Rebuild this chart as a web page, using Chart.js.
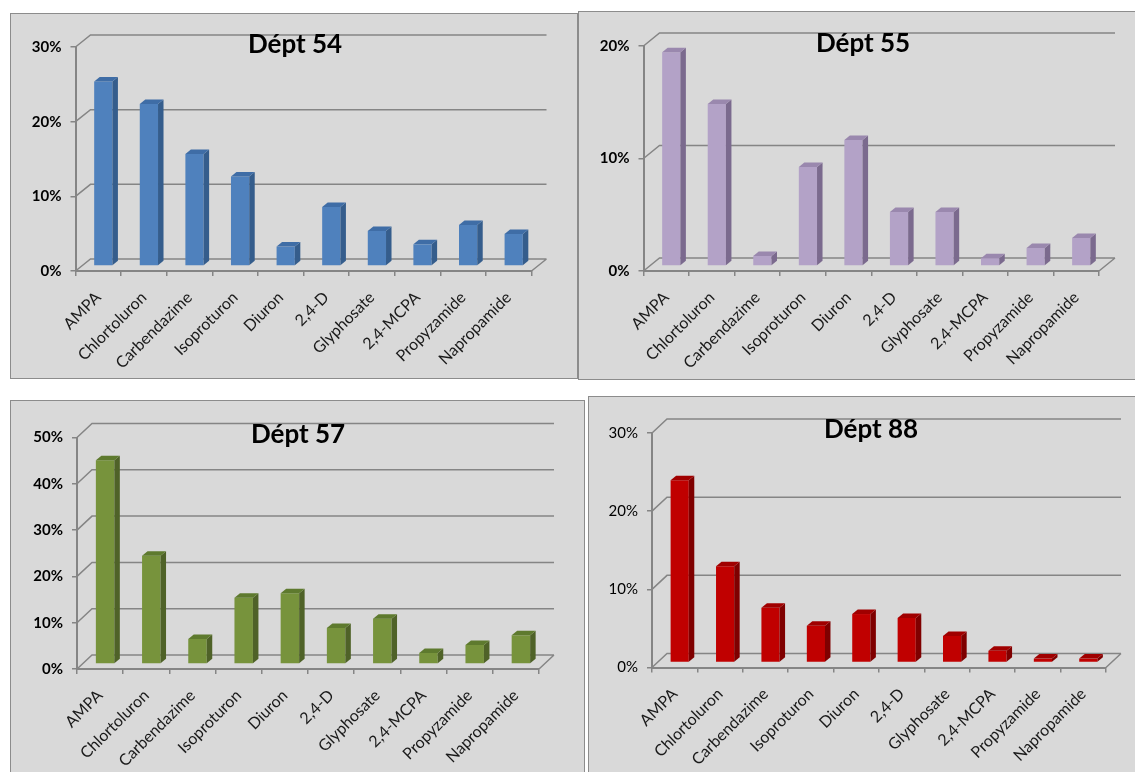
<!DOCTYPE html>
<html>
<head>
<meta charset="utf-8">
<script src="https://cdn.jsdelivr.net/npm/chart.js@4.4.1/dist/chart.umd.min.js"></script>
<style>
  body { margin: 0; background: #fff; width: 1135px; height: 772px; overflow: hidden; position: relative; }
  .panel { position: absolute; background: #d9d9d9; border: 1px solid #8c8c8c; }
  .panel canvas { position: absolute; left: 0; top: 0; }
</style>
</head>
<body>
<div class="panel" style="left:10px; top:13px; width:566px; height:364px;"><canvas id="c54" width="566" height="364"></canvas></div>
<div class="panel" style="left:578px; top:11px; width:556px; height:367px;"><canvas id="c55" width="556" height="367"></canvas></div>
<div class="panel" style="left:10px; top:400px; width:573px; height:371px;"><canvas id="c57" width="573" height="371"></canvas></div>
<div class="panel" style="left:588px; top:396px; width:546px; height:375px;"><canvas id="c88" width="546" height="375"></canvas></div>

<script>
const categories = ['AMPA', 'Chlortoluron', 'Carbendazime', 'Isoproturon', 'Diuron', '2,4-D', 'Glyphosate', '2,4-MCPA', 'Propyzamide', 'Napropamide'];

// % of detections per department
const dept54 = [24.7, 21.7, 15.0, 12.0, 2.6, 7.9, 4.7, 2.9, 5.5, 4.3];
const dept55 = [19.0, 14.4, 0.9, 8.8, 11.2, 4.8, 4.8, 0.7, 1.6, 2.5];
const dept57 = [44.0, 23.4, 5.4, 14.3, 15.3, 7.8, 9.8, 2.4, 4.1, 6.2];
const dept88 = [23.3, 12.3, 7.0, 4.7, 6.2, 5.7, 3.4, 1.5, 0.5, 0.5];

const yTicks54 = [0, 10, 20, 30];
const yTicks55 = [0, 10, 20];
const yTicks57 = [0, 10, 20, 30, 40, 50];
const yTicks88 = [0, 10, 20, 30];

// back wall + floor, and the 3d faces of the bars
const wall3d = {
  id: 'wall3d',
  beforeDatasetsDraw(chart, args, o) {
    const ctx = chart.ctx, a = chart.chartArea, y = chart.scales.y;
    ctx.save();
    ctx.strokeStyle = '#858585';
    ctx.lineWidth = 1.5;
    ctx.beginPath();
    y.ticks.forEach(t => {
      const py = y.getPixelForValue(t.value);
      ctx.moveTo(a.left, py);
      ctx.lineTo(a.left + o.dx, py + o.dy);
      ctx.lineTo(a.right + o.dx, py + o.dy);
    });
    const p0 = y.getPixelForValue(0);
    ctx.moveTo(a.right, p0);
    ctx.lineTo(a.right + o.dx, p0 + o.dy);
    ctx.stroke();
    ctx.restore();
    ctx.save();
    ctx.translate(o.sx, o.sy);
  },
  afterDatasetsDraw(chart, args, o) {
    const ctx = chart.ctx;
    chart.getDatasetMeta(0).data.forEach(bar => {
      const p = bar.getProps(['x', 'y', 'base', 'width'], true);
      const l = p.x - p.width / 2, r = p.x + p.width / 2;
      ctx.fillStyle = o.side;
      ctx.beginPath();
      ctx.moveTo(r, p.y);
      ctx.lineTo(r + o.fx, p.y + o.fy);
      ctx.lineTo(r + o.fx, p.base + o.fy);
      ctx.lineTo(r, p.base);
      ctx.closePath();
      ctx.fill();
      ctx.fillStyle = o.top;
      ctx.beginPath();
      ctx.moveTo(l, p.y);
      ctx.lineTo(l + o.fx, p.y + o.fy);
      ctx.lineTo(r + o.fx, p.y + o.fy);
      ctx.lineTo(r, p.y);
      ctx.closePath();
      ctx.fill();
    });
    ctx.restore();
  }
};

// title sits inside the plot, over the top gridline
const overTitle = {
  id: 'overTitle',
  afterDraw(chart, args, o) {
    const ctx = chart.ctx;
    ctx.save();
    ctx.font = 'bold 26px Lato';
    ctx.fillStyle = '#000';
    ctx.textAlign = 'center';
    ctx.textBaseline = 'middle';
    ctx.fillText(o.text, o.x, o.y);
    ctx.restore();
  }
};

function makeChart(id, title, values, yTicks, col, g) {
  new Chart(document.getElementById(id), {
    type: 'bar',
    data: {
      labels: categories,
      datasets: [{
        label: title,
        data: values,
        backgroundColor: col.front,
        borderWidth: 0,
        barPercentage: 0.4,
        categoryPercentage: 1,
        clip: false
      }]
    },
    options: {
      responsive: false,
      animation: false,
      layout: { padding: { left: 0, top: g.top, right: g.right, bottom: 0 } },
      plugins: {
        legend: { display: false },
        tooltip: { enabled: false },
        wall3d: { dx: g.dx, dy: g.dy, sx: 5, sy: -5, fx: 5.5, fy: -4.5, side: col.side, top: col.top },
        overTitle: { text: title, x: g.tx, y: g.ty }
      },
      scales: {
        x: {
          grid: { display: true, drawOnChartArea: false, drawTicks: true, tickLength: 5, color: '#858585', lineWidth: 1.5 },
          border: { color: '#858585', width: 2 },
          ticks: { autoSkip: false, minRotation: 45, maxRotation: 45, padding: 12, color: '#1a1a1a', font: { family: 'Lato', size: 16 } },
          afterFit: s => { s.height = g.xh; }
        },
        y: {
          min: yTicks[0],
          max: yTicks[yTicks.length - 1],
          grid: { display: true, drawOnChartArea: false, drawTicks: true, tickLength: 5, color: '#858585', lineWidth: 1.5 },
          border: { color: '#858585', width: 2 },
          ticks: { stepSize: 10, padding: 9, color: '#000', font: { family: 'Lato', size: 15, weight: g.bold ? 'bold' : 'normal' }, callback: v => v + '%' },
          afterFit: s => { s.width = g.yw; }
        }
      }
    },
    plugins: [wall3d, overTitle]
  });
}

makeChart('c54', 'Dépt 54', dept54, yTicks54,
  { front: '#4f81bd', side: '#355d8c', top: '#3f6da6' },
  { top: 33, right: 45.5, yw: 64.5, xh: 107, dx: 15, dy: -12, tx: 284, ty: 31, bold: true });
makeChart('c55', 'Dépt 55', dept55, yTicks55,
  { front: '#b3a2c7', side: '#7b6a8e', top: '#9a88ae' },
  { top: 34, right: 36, yw: 64.5, xh: 108, dx: 16, dy: -13, tx: 284, ty: 32, bold: true });
makeChart('c57', 'Dépt 57', dept57, yTicks57,
  { front: '#77933c', side: '#4f6228', top: '#5e7a2e' },
  { top: 36.5, right: 45, yw: 66, xh: 103, dx: 15, dy: -14, tx: 287, ty: 34, bold: true });
makeChart('c88', 'Dépt 88', dept88, yTicks88,
  { front: '#c00000', side: '#7f0000', top: '#a00000' },
  { top: 36, right: 29, yw: 63, xh: 104.5, dx: 15, dy: -14, tx: 282, ty: 33, bold: false });
</script>
</body>
</html>
